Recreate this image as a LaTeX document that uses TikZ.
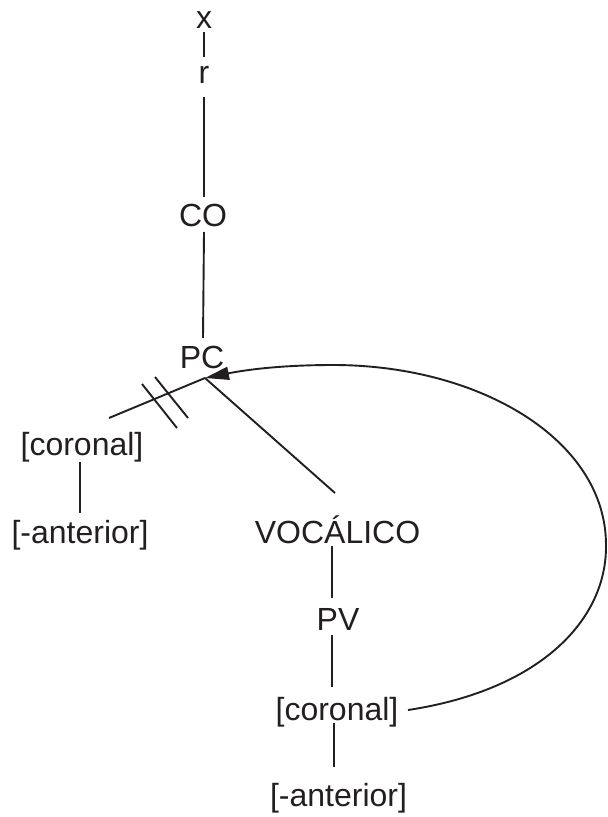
\documentclass[tikz,border=0pt]{standalone}
\usepackage{fontspec}
\setmainfont{Liberation Sans}
\usetikzlibrary{arrows.meta}
\definecolor{ink}{RGB}{35,31,32}
\begin{document}
\begin{tikzpicture}[x=1pt,y=-1pt,
  lbl/.style={anchor=base,inner sep=0pt,text=ink,font=\fontsize{32}{38}\selectfont},
  ln/.style={draw=ink,line width=1.9pt}]
\useasboundingbox[fill=white] (0,0) rectangle (608,817);
% nodes
\node[lbl] (x)    at (204,28)  {x};
\node[lbl] (r)    at (204,83)  {r};
\node[lbl] (co)   at (203,226) {CO};
\node[lbl] (pc)   at (202,368) {PC};
\node[lbl] (cor1) at (82,455)  {[coronal]};
\node[lbl] (ant1) at (80,543)  {[-anterior]};
\node[lbl] (voc)  at (337.5,543) {VOCÁLICO};
\node[lbl] (pv)   at (338,630) {PV};
\node[lbl] (cor2) at (337,720) {[coronal]};
\node[lbl] (ant2) at (338.5,806) {[-anterior]};
\coordinate (j) at (205,378);
\coordinate (s1a) at (142,384); \coordinate (s1b) at (177,428);
\coordinate (s2a) at (155,377); \coordinate (s2b) at (188,418);
% vertical tree lines
\draw[ln] ([yshift=-4pt]x.base) -- ([yshift=26pt]r.base);
\draw[ln] ([yshift=-14pt]r.base) -- ([xshift=1pt,yshift=29pt]co.base);
\draw[ln] ([xshift=1pt,yshift=-6pt]co.base) -- ([xshift=1pt,yshift=30pt]pc.base);
\draw[ln] ([xshift=-2pt,yshift=-7pt]cor1.base) -- ([yshift=30pt]ant1.base);
\draw[ln] ([xshift=-5.5pt,yshift=-3pt]voc.base) -- ([xshift=-6pt,yshift=32pt]pv.base);
\draw[ln] ([xshift=-6pt,yshift=-5pt]pv.base) -- ([xshift=-5pt,yshift=33pt]cor2.base);
\draw[ln] ([xshift=-3pt,yshift=-3pt]cor2.base) -- ([xshift=-4.5pt,yshift=39pt]ant2.base);
% PC branches
\draw[ln] (j) -- ([xshift=27pt,yshift=37pt]cor1.base);
\draw[ln] (j) -- ([xshift=-2.5pt,yshift=50pt]voc.base);
% delinking marks
\draw[ln] (s1a) -- (s1b);
\draw[ln] (s2a) -- (s2b);
% spreading arrow
\draw[ln,-{Triangle[length=24pt,width=13pt]}] ([xshift=71pt,yshift=10pt]cor2.base)
  .. controls (540,690) and (607,620) .. (606,545)
  .. controls (606,440) and (480,365) .. (333,365)
  .. controls (280,365) and (245,370) .. (j);
\end{tikzpicture}
\end{document}
